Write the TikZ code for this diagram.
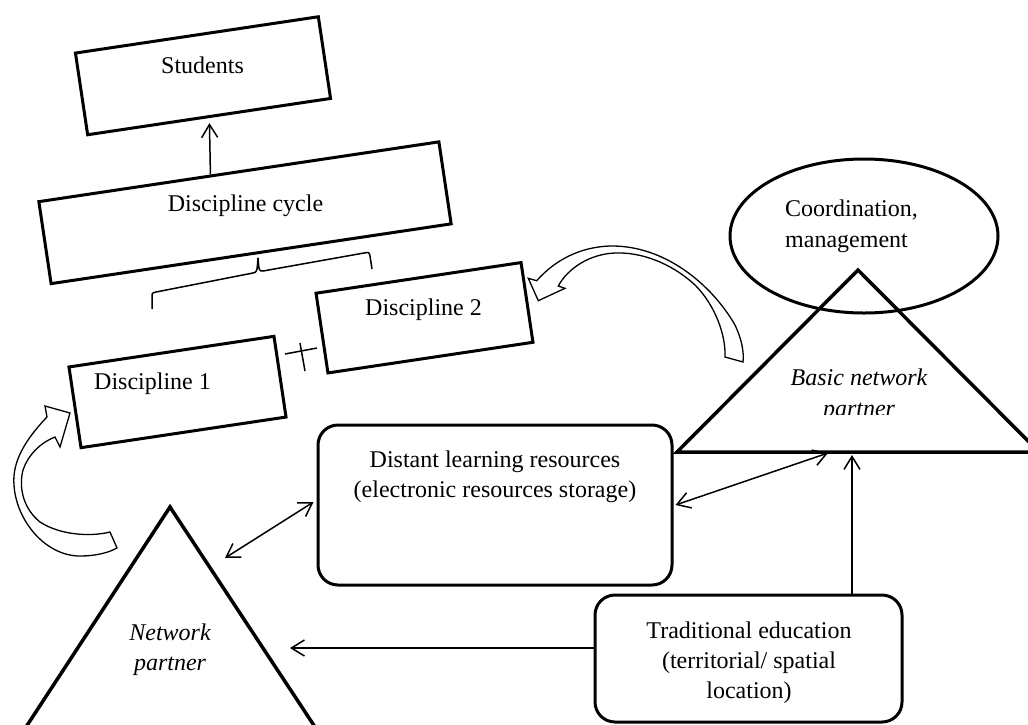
\documentclass[tikz,border=0pt]{standalone}
\usepackage{fontspec}
\setmainfont{Liberation Serif}
\usetikzlibrary{arrows.meta,calc,shapes.geometric}
\begin{document}
\begin{tikzpicture}[x=1pt,y=-1pt,
  rbox/.style={draw, line width=3pt, inner sep=0pt, rotate=8.5},
  roundbox/.style={draw, line width=3pt, rounded corners=20pt, inner sep=0pt},
  txt/.style={inner sep=0pt, anchor=base, font=\fontsize{24}{30}\selectfont},
  ltxt/.style={txt, anchor=base west},
  thinarrow/.style={line width=1.5pt, -{Straight Barb[length=13pt,width=16pt]}},
  dblarrow/.style={line width=1.5pt, {Straight Barb[length=13pt,width=16pt]}-{Straight Barb[length=13pt,width=16pt]}},
  blockarrow/.style={draw, line width=1.3pt, fill=white, line join=miter},
  tri/.style={draw, line width=3.5pt, line join=miter},
  thinline/.style={line width=1.5pt}
]
\useasboundingbox (0,0) rectangle (1028,724);
\clip (0,0) rectangle (1028,724);

% tilted boxes
\node[rbox, minimum width=245.6pt, minimum height=82.6pt] (stu) at (203,75.75) {};
\node[txt] (stuT) at (202.5,73) {Students};
\node[rbox, minimum width=404.5pt, minimum height=82.9pt] (dc) at (245,212.75) {};
\node[txt] (dcT) at (245.5,211) {Discipline cycle};
\node[rbox, minimum width=207.3pt, minimum height=81.6pt] (d1) at (177.5,392) {};
\node[txt] (d1T) at (152.5,389) {Discipline 1};
\node[rbox, minimum width=207.3pt, minimum height=80.6pt] (d2) at (424.5,317.75) {};
\node[txt] (d2T) at (423.5,315) {Discipline 2};

\draw[thinarrow, shorten >=5pt] ($(dc.north west)!0.43!(dc.north east)$) -- ($(stu.south west)!0.5!(stu.south east)$);

% brace
\draw[thinline] (152,309) -- (152,297) .. controls (152,293) .. (156,292) -- (253,273)
  .. controls (257,272) .. (258,258) .. controls (259,271) .. (263,271) -- (364,253)
  .. controls (369,252) .. (370,256) -- (372,269);

% plus
\draw[thinline] (285,354) -- (317,348);
\draw[thinline] (300,343) -- (305,371);

% ellipse and basic triangle
\node[draw, ellipse, line width=3pt, minimum width=268pt, minimum height=154pt, inner sep=0pt] (coord) at (864,236) {};
\node[ltxt] (coordT1) at (785,216) {Coordination,};
\node[ltxt] (coordT2) at (785,247) {management};
\draw[tri] (858,270) -- (677,452) -- (1039,452) -- cycle;
\coordinate (bnpA) at (828,453);
\coordinate (bnpB) at (852,455);
\node[txt, font=\fontsize{24}{30}\selectfont\itshape] (bnpT1) at (859,385) {Basic network};
\begin{scope}
  \clip (760,390) rectangle (960,414);
  \node[txt, font=\fontsize{24}{30}\selectfont\itshape] (bnpT2) at (859,416) {partner};
\end{scope}

% network partner triangle
\draw[tri] (170,507) -- (26,727) -- (315,727) -- cycle;
\node[txt, font=\fontsize{24}{30}\selectfont\itshape] (npT1) at (170,640) {Network};
\node[txt, font=\fontsize{24}{30}\selectfont\itshape] (npT2) at (170,670) {partner};
\coordinate (npA) at (225,558);
\coordinate (npB) at (290,648);

% rounded boxes
\node[roundbox, minimum width=354pt, minimum height=160pt] (dist) at (495,505) {};
\node[txt] (distT1) at (495,467) {Distant learning resources};
\node[txt] (distT2) at (495,497) {(electronic resources storage)};
\node[roundbox, minimum width=307pt, minimum height=127pt] (trad) at (748.5,658.5) {};
\node[txt] (tradT1) at (749,638) {Traditional education};
\node[txt] (tradT2) at (749,668) {(territorial/ spatial};
\node[txt] (tradT3) at (749,698) {location)};

% connectors
\draw[dblarrow] (npA) -- ([yshift=3pt,xshift=-3pt]dist.west);
\draw[dblarrow] ([xshift=2pt]dist.east) -- (bnpA);
\draw[thinarrow] (trad.north -| bnpB) -- (bnpB);
\draw[thinarrow] (trad.west |- npB) -- (npB);

% block arrow to Discipline 1
\path[blockarrow] (47,417) .. controls (25,440) and (12,462) .. (14,485)
  .. controls (16,520) and (45,556) .. (80,556) .. controls (95,556) and (108,553) .. (117,548)
  -- (110,532) .. controls (90,537) and (60,535) .. (40,522)
  .. controls (25,510) and (18,490) .. (23,470) .. controls (28,455) and (40,443) .. (55,437)
  -- (60,447) -- (70,413) -- (45,406) -- cycle;

% block arrow to Discipline 2
\path[blockarrow] (536.7,280.7) .. controls (555,260) and (580,247) .. (610,246)
  .. controls (665,245) and (712,285) .. (735,325) .. controls (742,340) and (744,352) .. (743,362)
  -- (725,357) .. controls (726,335) and (715,305) .. (695,285)
  .. controls (670,262) and (640,252) .. (615,253) .. controls (590,254) and (568,268) .. (558.3,286)
  -- (565,288.3) -- (538.3,300.7) -- (528.3,278.3) -- cycle;
\end{tikzpicture}
\end{document}
